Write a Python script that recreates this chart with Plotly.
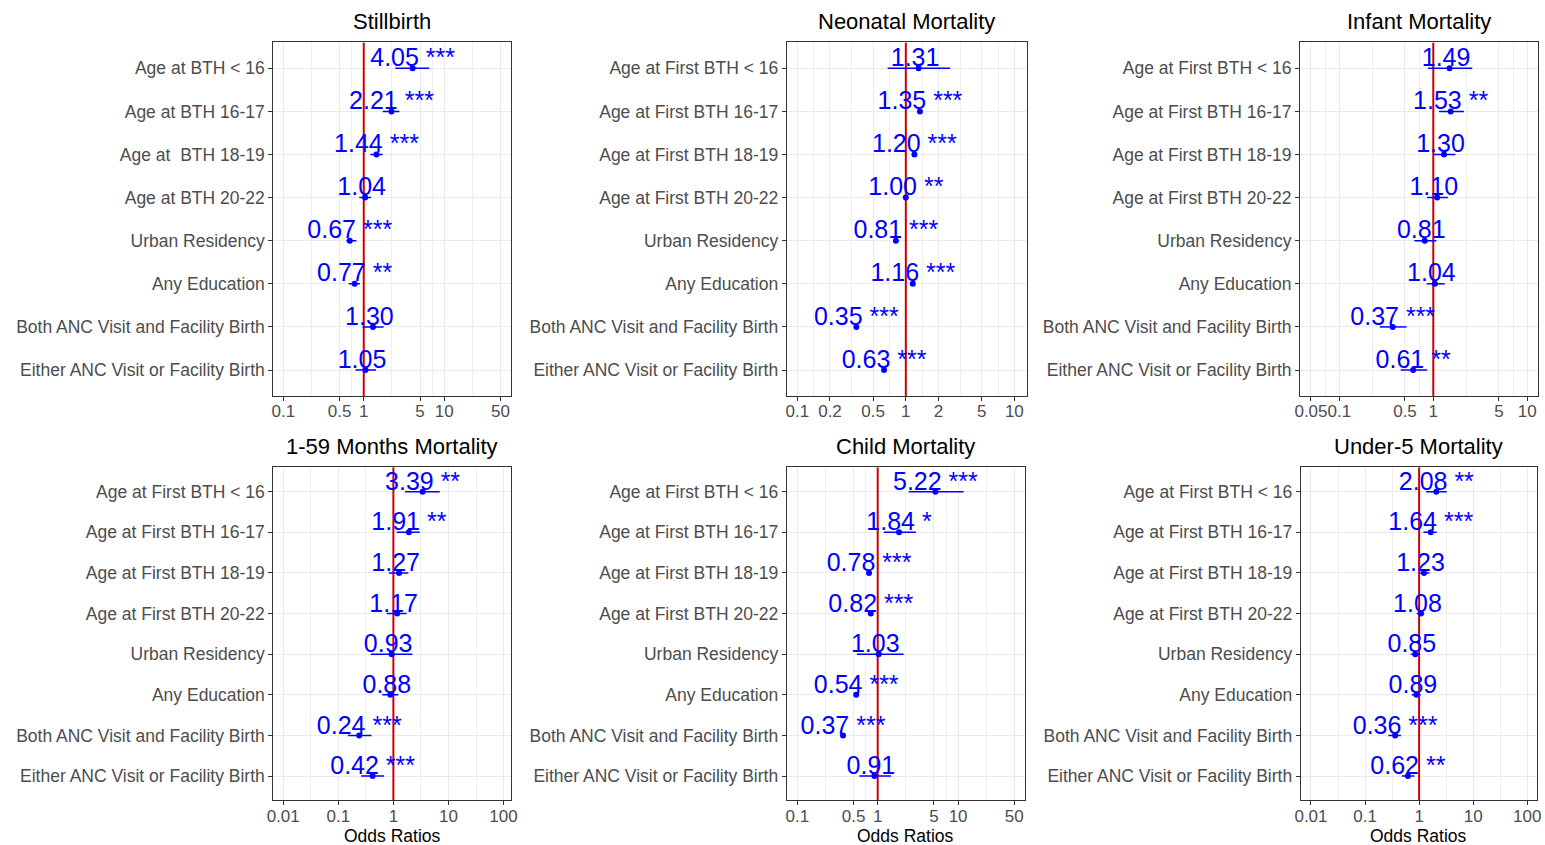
import math
import plotly.graph_objects as go

# ---------------- data ----------------
rows_bth = ["Age at BTH < 16", "Age at BTH 16-17", "Age at \u00a0BTH 18-19", "Age at BTH 20-22",
            "Urban Residency", "Any Education", "Both ANC Visit and Facility Birth",
            "Either ANC Visit or Facility Birth"]
rows_first = ["Age at First BTH < 16", "Age at First BTH 16-17", "Age at First BTH 18-19",
              "Age at First BTH 20-22", "Urban Residency", "Any Education",
              "Both ANC Visit and Facility Birth", "Either ANC Visit or Facility Birth"]

titles = ["Stillbirth", "Neonatal Mortality", "Infant Mortality",
          "1-59 Months Mortality", "Child Mortality", "Under-5 Mortality"]

stillbirth_or = [4.05, 2.21, 1.44, 1.04, 0.67, 0.77, 1.30, 1.05]
stillbirth_lo = [2.47, 1.72, 1.21, 0.88, 0.61, 0.65, 0.97, 0.79]
stillbirth_hi = [6.52, 2.77, 1.72, 1.23, 0.81, 0.90, 1.77, 1.42]
stillbirth_sig = ["***", "***", "***", "", "***", "**", "", ""]

neonatal_or = [1.31, 1.35, 1.20, 1.00, 0.81, 1.16, 0.35, 0.63]
neonatal_lo = [0.68, 1.33, 1.18, 0.98, 0.80, 1.14, 0.34, 0.62]
neonatal_hi = [2.56, 1.38, 1.22, 1.02, 0.83, 1.18, 0.36, 0.65]
neonatal_sig = ["", "***", "***", "**", "***", "***", "***", "***"]

infant_or = [1.49, 1.53, 1.30, 1.10, 0.81, 1.04, 0.37, 0.61]
infant_lo = [0.88, 1.15, 1.01, 0.86, 0.63, 0.85, 0.27, 0.45]
infant_hi = [2.60, 2.12, 1.72, 1.43, 1.08, 1.32, 0.52, 0.86]
infant_sig = ["", "**", "", "", "", "", "***", "**"]

m159_or = [3.39, 1.91, 1.27, 1.17, 0.93, 0.88, 0.24, 0.42]
m159_lo = [1.63, 1.15, 0.83, 0.76, 0.39, 0.63, 0.15, 0.26]
m159_hi = [6.95, 3.00, 1.87, 1.74, 2.21, 1.23, 0.40, 0.68]
m159_sig = ["**", "**", "", "", "", "", "***", "***"]

child_or = [5.22, 1.84, 0.78, 0.82, 1.03, 0.54, 0.37, 0.91]
child_lo = [2.43, 1.19, 0.76, 0.80, 0.55, 0.53, 0.36, 0.59]
child_hi = [11.7, 2.99, 0.80, 0.84, 2.10, 0.55, 0.38, 1.46]
child_sig = ["***", "*", "***", "***", "", "***", "***", ""]

u5_or = [2.08, 1.64, 1.23, 1.08, 0.85, 0.89, 0.36, 0.62]
u5_lo = [1.35, 1.20, 1.00, 0.90, 0.70, 0.73, 0.27, 0.48]
u5_hi = [3.25, 2.12, 1.55, 1.24, 1.04, 1.07, 0.46, 0.82]
u5_sig = ["**", "***", "", "", "", "", "***", "**"]

ticks_a = [0.1, 0.5, 1, 5, 10, 50]
ticks_a_txt = ["0.1", "0.5", "1", "5", "10", "50"]
ticks_b = [0.1, 0.2, 0.5, 1, 2, 5, 10]
ticks_b_txt = ["0.1", "0.2", "0.5", "1", "2", "5", "10"]
ticks_c = [0.05, 0.1, 0.5, 1, 5, 10]
ticks_c_txt = ["0.05", "0.1", "0.5", "1", "5", "10"]
ticks_d = [0.01, 0.1, 1, 10, 100]
ticks_d_txt = ["0.01", "0.1", "1", "10", "100"]

# ---------------- layout helpers ----------------
W, H = 1545, 845
FONT = "Liberation Sans, Arial, sans-serif"
BLUE = "#0000FF"

panels = [
    (rows_bth, stillbirth_or, stillbirth_lo, stillbirth_hi, stillbirth_sig, ticks_a, ticks_a_txt,
     [-1.124, 1.826], (273.3, 510.7), (42.4, 395.9)),
    (rows_first, neonatal_or, neonatal_lo, neonatal_hi, neonatal_sig, ticks_b, ticks_b_txt,
     [-1.098, 1.114], (786.7, 1026.7), (42.4, 395.9)),
    (rows_first, infant_or, infant_lo, infant_hi, infant_sig, ticks_c, ticks_c_txt,
     [-1.418, 1.114], (1300.0, 1538.0), (42.4, 395.9)),
    (rows_first, m159_or, m159_lo, m159_hi, m159_sig, ticks_d, ticks_d_txt,
     [-2.18, 2.13], (273.3, 510.7), (467.3, 800.4)),
    (rows_first, child_or, child_lo, child_hi, child_sig, ticks_a, ticks_a_txt,
     [-1.132, 1.832], (786.7, 1025.0), (467.3, 800.4)),
    (rows_first, u5_or, u5_lo, u5_hi, u5_sig, ticks_d, ticks_d_txt,
     [-2.19, 2.18], (1300.7, 1537.0), (467.3, 800.4)),
]

fig = go.Figure()
annotations = []
layout_axes = {}

for k, (rows, orv, lo, hi, sig, tv, tt, xr, xpx, ypx) in enumerate(panels, start=1):
    xa = "x" if k == 1 else f"x{k}"
    ya = "y" if k == 1 else f"y{k}"
    xname = "xaxis" if k == 1 else f"xaxis{k}"
    yname = "yaxis" if k == 1 else f"yaxis{k}"
    pos = list(range(1, len(rows) + 1))
    ymax = len(rows) + 0.6

    # red reference line at OR = 1
    fig.add_trace(go.Scatter(
        x=[1, 1], y=[0.4, ymax], xaxis=xa, yaxis=ya, mode="lines",
        line=dict(color="#CD0000", width=2), hoverinfo="skip", showlegend=False))

    fig.add_trace(go.Scatter(
        x=orv, y=pos, xaxis=xa, yaxis=ya, mode="markers",
        marker=dict(color=BLUE, size=6),
        error_x=dict(type="data", symmetric=False,
                     array=[h - o for h, o in zip(hi, orv)],
                     arrayminus=[o - l for o, l in zip(orv, lo)],
                     color=BLUE, thickness=1.5, width=0),
        hoverinfo="skip", showlegend=False))

    labels = [f"{o:.2f}\u00a0{s}" for o, s in zip(orv, sig)]
    fig.add_trace(go.Scatter(
        x=orv, y=[p - 0.2 for p in pos], xaxis=xa, yaxis=ya, mode="text",
        text=labels, textposition="middle center",
        textfont=dict(family=FONT, size=25, color=BLUE),
        hoverinfo="skip", showlegend=False, cliponaxis=False))

    minor = [math.sqrt(a * b) for a, b in zip(tv[:-1], tv[1:])]

    xd = [xpx[0] / W, xpx[1] / W]
    yd = [1 - ypx[1] / H, 1 - ypx[0] / H]

    layout_axes[xname] = dict(
        type="log", range=xr, domain=xd, anchor=ya, automargin=False,
        tickmode="array", tickvals=tv, ticktext=tt, tickangle=0,
        ticks="outside", ticklen=4, tickcolor="#333333", tickwidth=1,
        ticklabelstandoff=-4,
        tickfont=dict(family=FONT, size=17, color="#4D4D4D"),
        showgrid=True, gridcolor="#EBEBEB", gridwidth=1.2,
        minor=dict(tickmode="array", tickvals=minor, showgrid=True,
                   gridcolor="#EFEFEF", gridwidth=0.7, ticks=""),
        showline=True, mirror=True, linecolor="#333333", linewidth=1,
        zeroline=False, fixedrange=True)
    layout_axes[yname] = dict(
        range=[ymax, 0.4], domain=yd, anchor=xa, automargin=False,
        tickmode="array", tickvals=pos, ticktext=rows,
        ticks="outside", ticklen=4, tickcolor="#333333", tickwidth=1,
        tickfont=dict(family=FONT, size=17.5, color="#4D4D4D"),
        showgrid=True, gridcolor="#EBEBEB", gridwidth=1.2,
        showline=True, mirror=True, linecolor="#333333", linewidth=1,
        zeroline=False, fixedrange=True)

    cx = (xd[0] + xd[1]) / 2
    annotations.append(dict(text=titles[k - 1], xref="paper", yref="paper", x=cx,
                            y=1 - (ypx[0] - 21) / H, xanchor="center", yanchor="middle",
                            showarrow=False, font=dict(family=FONT, size=22, color="black")))
    if k >= 4:
        annotations.append(dict(text="Odds Ratios", xref="paper", yref="paper", x=cx,
                                y=1 - 836 / H, xanchor="center", yanchor="middle",
                                showarrow=False, font=dict(family=FONT, size=17.5, color="black")))

fig.update_layout(
    width=W, height=H, autosize=False,
    margin=dict(l=0, r=0, t=0, b=0, pad=0, autoexpand=False),
    paper_bgcolor="white", plot_bgcolor="white",
    showlegend=False, annotations=annotations,
    font=dict(family=FONT),
    **layout_axes)

fig.write_html("out.html",
               config={"responsive": False, "displayModeBar": False},
               default_width="1545px", default_height="845px",
               post_script="document.body.style.margin='0';document.body.style.padding='0';document.body.style.overflow='hidden';")
